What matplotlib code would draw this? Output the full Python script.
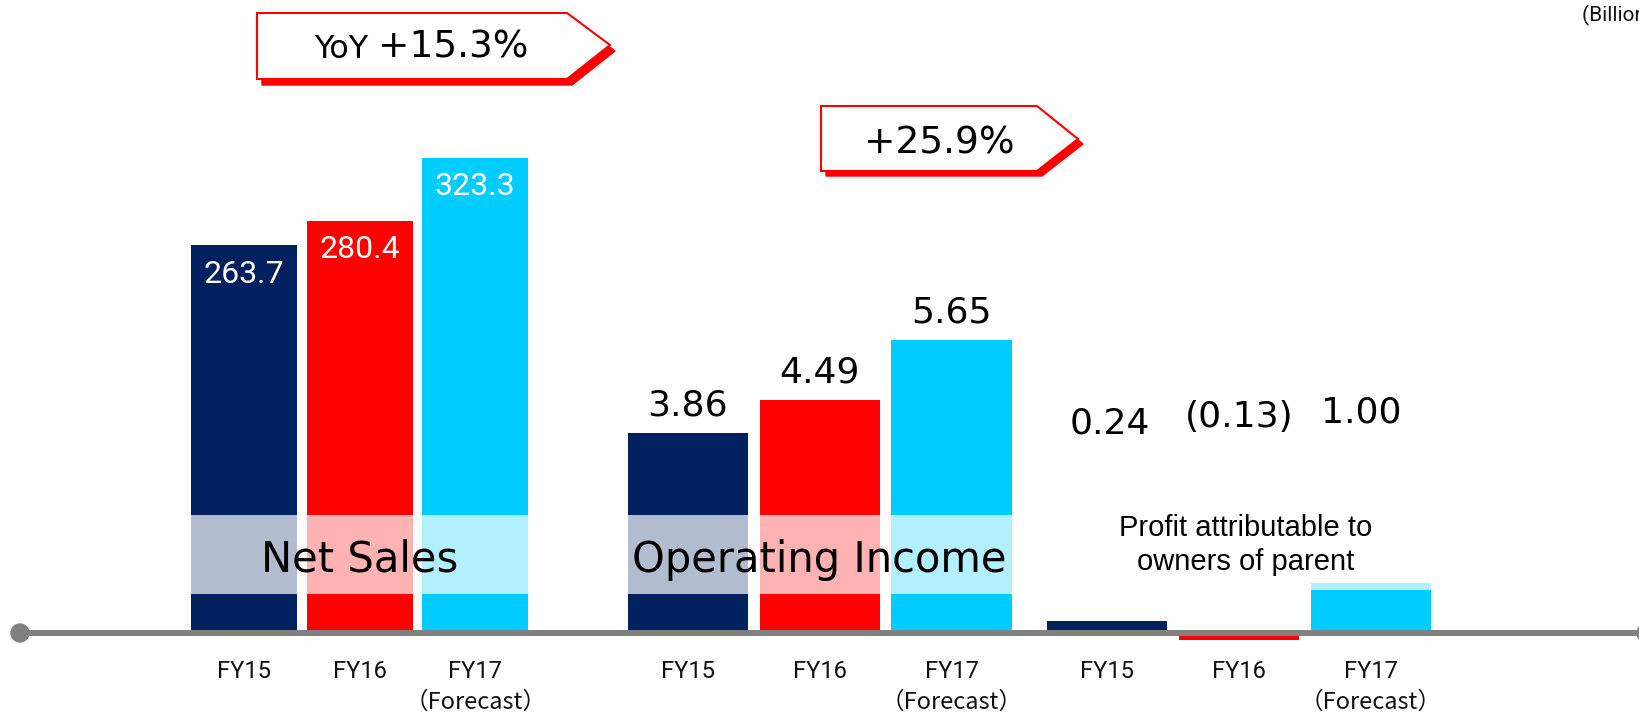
import matplotlib
matplotlib.use("Agg")
import matplotlib.pyplot as plt
from matplotlib.patches import Polygon, Circle
from matplotlib.transforms import blended_transform_factory

plt.rcParams['font.family'] = ['DejaVu Sans']

# data
years = ['FY15', 'FY16', 'FY17']
net_sales = [263.7, 280.4, 323.3]
operating_income = [3.86, 4.49, 5.65]
profit_parent = [0.24, -0.13, 1.00]
profit_labels = ['0.24', '(0.13)', '1.00']
colors = ['#002060', '#FF0000', '#00CCFF']

W, H = 1639, 714
BASE = 633  # baseline pixel row (from top)

fig = plt.figure(figsize=(W / 100, H / 100), dpi=100)


def group_axes(x0, x1, scale):
    # one axes per group, each with its own value scale (px per unit)
    ax = fig.add_axes([x0 / W, 0, (x1 - x0) / W, 1])
    ax.set_xlim(-0.5, 2.5)
    ax.set_ylim((BASE - H) / scale, BASE / scale)
    ax.axis('off')
    ax.patch.set_visible(False)
    return ax


def px(ypx, scale):
    return (BASE - ypx) / scale


def ticks(ax):
    tr = blended_transform_factory(ax.transData, ax.transAxes)
    for i, y in enumerate(years):
        ax.text(i, 1 - 672 / H, y, transform=tr, ha='center', va='center',
                fontsize=17, family=['Roboto', 'Noto Sans CJK JP'], color='#111111')
    ax.text(2, 1 - 702 / H, '（Forecast）', transform=tr, ha='center', va='center',
            fontsize=17, family=['Noto Sans CJK JP', 'Roboto'], color='#111111')


# ---- Net Sales
s1 = 1.47
ax1 = group_axes(186.5, 533, s1)
ax1.bar(range(3), net_sales, width=0.918, color=colors, zorder=2)
ax1.axhspan(px(594, s1), px(515, s1), color='white', alpha=0.7, lw=0, zorder=3)
for i, v in enumerate(net_sales):
    ax1.annotate(f'{v:.1f}', (i, v), xytext=(0, -21), textcoords='offset points',
                 ha='center', va='center', color='white', fontsize=23,
                 family='Roboto', zorder=4)
ax1.text(1, px(560, s1), 'Net Sales', ha='center', va='center', fontsize=30, zorder=4)
ticks(ax1)

# ---- Operating Income
s2 = 51.8
ax2 = group_axes(622, 1017.4, s2)
ax2.bar(range(3), operating_income, width=0.911, color=colors, zorder=2)
ax2.axhspan(px(594, s2), px(515, s2), color='white', alpha=0.7, lw=0, zorder=3)
for i, v in enumerate(operating_income):
    ax2.annotate(f'{v:.2f}', (i, v), xytext=(0, 20), textcoords='offset points',
                 ha='center', va='center', color='black', fontsize=26, zorder=4)
ax2.text(1, px(560, s2), 'Operating Income', ha='center', va='center', fontsize=30, zorder=4)
ticks(ax2)

# ---- Profit attributable to owners of parent
s3 = 50
ax3 = group_axes(1041.4, 1436.6, s3)
ax3.bar(range(3), profit_parent, width=0.911, color=colors, zorder=2)
ax3.axhspan(px(590, s3), px(505, s3), color='white', alpha=0.7, lw=0, zorder=3)
for i, (lab, ypx, dx) in enumerate(zip(profit_labels, [423, 417, 413], [0.02, 0, -0.07])):
    ax3.text(i + dx, px(ypx, s3), lab, ha='center', va='center', fontsize=26, zorder=4)
ax3.text(1.05, px(545, s3), 'Profit attributable to\nowners of parent', ha='center',
         va='center', fontsize=21, family='Liberation Sans', linespacing=1.25, zorder=4)
ticks(ax3)

# ---- overlay: axis line, callouts, unit note (pixel coordinates)
ov = fig.add_axes([0, 0, 1, 1], zorder=5)
ov.set_xlim(0, W)
ov.set_ylim(H, 0)
ov.axis('off')
ov.patch.set_visible(False)

ov.plot([20, W + 10], [BASE, BASE], color='#808080', lw=4.3, solid_capstyle='butt', clip_on=False)
ov.add_patch(Circle((20, BASE), 9, color='#808080'))
ov.add_patch(Circle((W + 7, BASE), 9, color='#808080', clip_on=True))


def callout(pts, off):
    shadow = [(x + off[0], y + off[1]) for x, y in pts]
    ov.add_patch(Polygon(shadow, closed=True, facecolor='#FF0000', edgecolor='#FF0000', lw=1))
    ov.add_patch(Polygon(pts, closed=True, facecolor='white', edgecolor='#FF0000', lw=1.5))


callout([(257, 13), (567, 13), (610, 45), (567, 79), (257, 79)], (5, 6))
ov.text(314, 58, 'YoY', ha='left', va='baseline', fontsize=23)
ov.text(378, 58, '+15.3%', ha='left', va='baseline', fontsize=27)

callout([(821, 106), (1037, 106), (1078, 139), (1037, 171), (821, 171)], (5, 5))
ov.text(939, 153, '+25.9%', ha='center', va='baseline', fontsize=27)

# unit note runs off the right edge, as in the source slide
ov.text(1582, 15, '(Billions of yen)', ha='left', va='center', fontsize=15,
        family='Roboto', color='#111111', clip_on=True)

fig.savefig('out.png', dpi=100)
